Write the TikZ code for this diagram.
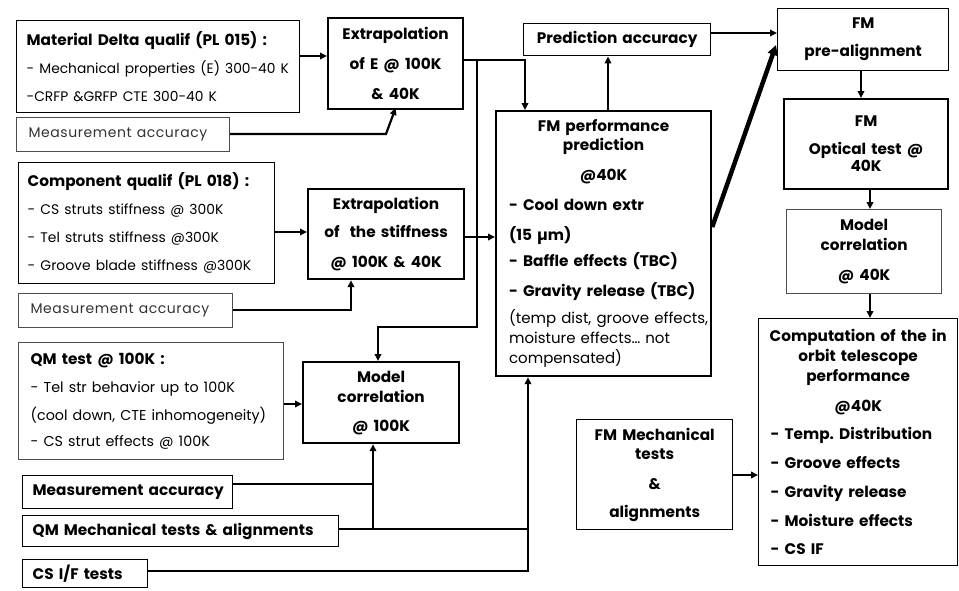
\documentclass[tikz,border=0pt]{standalone}
\usepackage{fontspec}
\setmainfont{Poppins}
\usetikzlibrary{arrows.meta}
\frenchspacing
\newcommand{\lft}[1]{\makebox[\hsize][l]{#1}}
\newcommand{\rgs}[1]{\fontsize{#1}{19}\selectfont\mdseries}
\newcommand{\lightf}{\fontsize{14}{19}\selectfont\mdseries\addfontfeature{LetterSpace=4}}
\begin{document}
\begin{tikzpicture}[x=1pt,y=-1pt,
  base/.style={anchor=north west, inner ysep=0pt, inner xsep=4pt, align=center,
    font=\fontsize{15.3}{19}\selectfont\bfseries},
  procbox/.style={base, draw, line width=2.2pt},
  inbox/.style={base, draw, line width=1.4pt},
  lightbox/.style={base, draw=black!70, line width=1.2pt},
  conn/.style={line width=2.2pt, -{Triangle[length=7pt,width=6.5pt]}},
  wire/.style={line width=2.2pt}
]
\useasboundingbox (0,0) rectangle (959,590);
\fill[white] (0,0) rectangle (959,590);

% left column
\node[inbox, inner xsep=10pt, minimum width=283pt, minimum height=92pt, text width=263pt] (mat) at (16,20)
  {\lft{Material Delta qualif (PL 015) :}\\[9pt]\lft{\rgs{13.8}- Mechanical properties (E) 300-40 K}\\[9pt]\lft{\rgs{13.8}-CRFP \&GRFP CTE 300-40 K}};
\node[lightbox, inner xsep=12pt, minimum width=213pt, minimum height=34pt, text width=189pt] (meas1) at (16,117)
  {\lft{\lightf\color{black!80}Measurement accuracy}};
\node[inbox, inner xsep=9pt, minimum width=256pt, minimum height=121pt, text width=238pt] (comp) at (18,162)
  {\lft{Component qualif (PL 018) :}\\[9pt]\lft{\rgs{13.9}- CS struts stiffness @ 300K}\\[9pt]\lft{\rgs{13.9}- Tel struts stiffness @300K}\\[9pt]\lft{\rgs{13.9}- Groove blade stiffness @300K}};
\node[lightbox, inner xsep=12pt, minimum width=214pt, minimum height=34pt, text width=190pt] (meas2) at (18,293)
  {\lft{\lightf\color{black!80}Measurement accuracy}};
\node[lightbox, inner xsep=12pt, minimum width=265pt, minimum height=117pt, text width=241pt] (qm) at (18,342)
  {\lft{QM test @ 100K :}\\[9pt]\lft{\rgs{14.3}- Tel str behavior up to 100K}\\[9pt]\lft{\rgs{14.3}(cool down, CTE inhomogeneity)}\\[7pt]\lft{\rgs{14.3}- CS strut effects @ 100K}};
\node[inbox, inner xsep=10pt, minimum width=210pt, minimum height=33pt, text width=190pt] (meas3) at (22,475)
  {\lft{Measurement accuracy}};
\node[inbox, inner xsep=10pt, minimum width=316pt, minimum height=31pt, text width=296pt] (qmmech) at (22,515)
  {\lft{QM Mechanical tests \& alignments}};
\node[inbox, inner xsep=10pt, minimum width=125pt, minimum height=28pt, text width=105pt] (csif) at (22,559)
  {\lft{CS I/F tests}};

% middle column
\node[procbox, minimum width=135pt, minimum height=91pt, text width=127pt] (extE) at (327,17)
  {Extrapolation\\[11pt]of E @ 100K\\[11pt]\& 40K};
\node[procbox, minimum width=156pt, minimum height=90pt, text width=148pt] (extS) at (307,188)
  {Extrapolation\\[9pt]of\ \ the stiffness\\[11pt]@ 100K \& 40K};
\node[procbox, minimum width=156pt, minimum height=81pt, text width=148pt] (mc100) at (302,361)
  {Model\\[1pt]correlation\\[10pt]@ 100K};

% FM performance
\node[procbox, inner xsep=6pt, minimum width=215pt, minimum height=265pt, text width=203pt] (fmperf) at (495,110)
  {FM performance\\prediction\\[11pt]@40K\\[11pt]\lft{\hspace*{7pt}- Cool down extr}\\[11pt]\lft{\hspace*{7pt}(15 µm)}\\[7pt]\lft{\hspace*{7pt}- Baffle effects (TBC)}\\[11pt]\lft{\hspace*{7pt}- Gravity release (TBC)}\\[8pt]\lft{\hspace*{7pt}\rgs{15}(temp dist, groove effects,}\\[1pt]\lft{\hspace*{7pt}\rgs{15}moisture effects… not}\\[1pt]\lft{\hspace*{7pt}\rgs{15}compensated)}};
\node[inbox, minimum width=187pt, minimum height=32pt, text width=179pt] (pred) at (523,23)
  {Prediction accuracy};
\node[inbox, minimum width=156pt, minimum height=110pt, text width=148pt] (fmmech) at (576,419)
  {FM Mechanical\\tests\\[11pt]\&\\[9pt]alignments};

% right column
\node[inbox, minimum width=171pt, minimum height=62pt, text width=163pt] (fmpre) at (777,8)
  {FM\\[9pt]pre-alignment};
\node[procbox, minimum width=164pt, minimum height=90pt, text width=156pt] (fmopt) at (783,98)
  {FM\\[9pt]Optical test @\\[-2pt]40K};
\node[lightbox, minimum width=155pt, minimum height=84pt, text width=147pt] (mc40) at (786,209)
  {Model\\[1pt]correlation\\[11pt]@ 40K};
\node[inbox, inner xsep=6pt, minimum width=199pt, minimum height=247pt, text width=187pt] (compt) at (758,318)
  {Computation of the in\\[1pt]orbit telescope\\[1pt]performance\\[11pt]@40K\\[9pt]\lft{\hspace*{6pt}- Temp.\ Distribution}\\[10pt]\lft{\hspace*{6pt}- Groove effects}\\[10pt]\lft{\hspace*{6pt}- Gravity release}\\[10pt]\lft{\hspace*{6pt}- Moisture effects}\\[9pt]\lft{\hspace*{6pt}- CS IF}};

% connectors
\draw[conn] (mat.east |- 0,56) -- (extE.west |- 0,56);
\draw[conn] (meas1.east |- 0,134) -- (386,134) -- (386,108 -| extE.south);
\draw[conn] (extE.east |- 0,60) -- (525,60) -- (525,0 |- fmperf.north);
\draw[conn] (477,60) -- (477,327) -- (378,327) -- (378,0 |- mc100.north);
\draw[conn] (comp.east |- 0,232) -- (extS.west |- 0,232);
\draw[conn] (meas2.east |- 0,310) -- (351,310) -- (351,0 |- extS.south);
\draw[conn] (extS.east |- 0,237) -- (fmperf.west |- 0,237);
\draw[conn] (qm.east |- 0,404) -- (mc100.west |- 0,404);
\draw[wire] (meas3.east |- 0,484) -- (373,484);
\draw[wire] (qmmech.east |- 0,529) -- (528,529);
\draw[conn] (373,529) -- (373,0 |- mc100.south);
\draw[conn] (csif.east |- 0,571) -- (528,571) -- (528,0 |- fmperf.south);
\draw[conn] (608,0 |- fmperf.north) -- (608,0 |- pred.south);
\draw[conn] (pred.east |- 0,33) -- (fmpre.west |- 0,33);
\draw[line width=4.5pt, -{Triangle[length=10pt,width=10pt]}] (fmperf.east |- 0,227) -- (776,45);
\draw[conn] (861,0 |- fmpre.south) -- (861,0 |- fmopt.north);
\draw[conn] (870,0 |- fmopt.south) -- (870,0 |- mc40.north);
\draw[conn] (870,0 |- mc40.south) -- (870,0 |- compt.north);
\draw[conn] (fmmech.east |- 0,475) -- (compt.west |- 0,475);
\end{tikzpicture}
\end{document}
